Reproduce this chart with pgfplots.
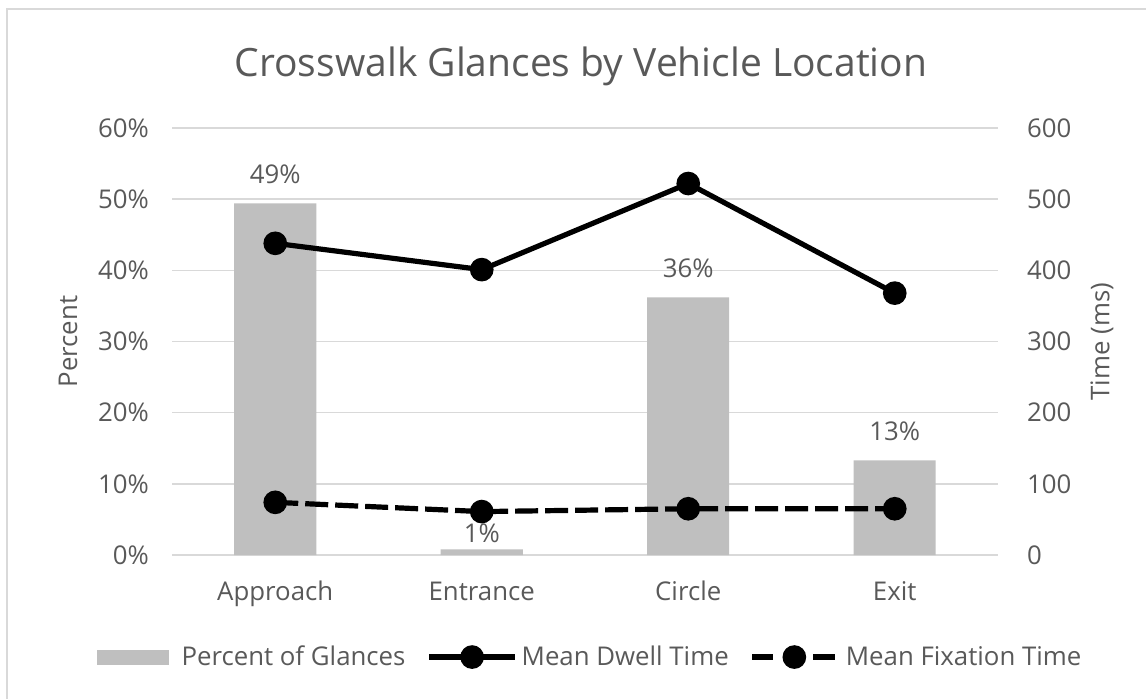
\documentclass[border=0pt]{standalone}
\usepackage{pgfplots}
\usepackage{pgfplotstable}
\pgfplotsset{compat=1.18}
\usepackage{fontspec}
\setmainfont{Open Sans}
\definecolor{txt}{HTML}{595959}
\definecolor{gridc}{HTML}{D9D9D9}
\definecolor{barc}{HTML}{BFBFBF}

% x, percent of glances, label shift
\pgfplotstableread{
x pct dy
0 49.4 14.5
1 0.8  8
2 36.2 14.5
3 13.3 14.5
}\glances

\pgfplotstableread{
x dwell fix
0 438 74
1 401 61
2 522 65
3 368 65
}\timetab

\pgfplotsset{
  /pgf/number format/assume math mode=true,
  solidleg/.style={legend image code/.code={%
    \draw[mark repeat=2,mark phase=2,##1] plot coordinates {(0pt,0pt) (21.5pt,0pt) (43pt,0pt)};}},
  dashleg/.style={legend image code/.code={%
    \draw[##1, dash pattern=on 10.5pt off 20pt on 11pt off 10pt] (0pt,0pt) -- (41.5pt,0pt);
    \draw[##1] plot[only marks] coordinates {(21pt,0pt)};
    \path (43.5pt,0pt);}},
}

\newcommand{\tickfont}{\fontsize{12.9}{15}\selectfont}

\begin{document}
\begin{tikzpicture}[x=1pt,y=1pt]
\path[use as bounding box] (0,0) rectangle (573,349);
\draw[color=gridc, line width=1.2pt] (3.5,-5) -- (3.5,344.5) -- (580,344.5);
\node[text=txt, font=\fontsize{19.5}{22}\selectfont] at (290.5,316) {Crosswalk Glances by Vehicle Location};

\begin{axis}[
  at={(86pt,71.5pt)}, anchor=south west,
  scale only axis, width=413pt, height=213.5pt,
  xmin=-0.5, xmax=3.5, ymin=0, ymax=60,
  axis line style={draw=none},
  major tick length=0pt,
  ytick={0,10,...,60},
  yticklabel={\pgfmathprintnumber{\tick}\%},
  ymajorgrids, grid style={gridc, line width=0.7pt},
  xtick={0,1,2,3},
  xticklabels={Approach,Entrance,Circle,Exit},
  tick label style={text=txt, font=\tickfont},
  yticklabel style={anchor=east, xshift=-8pt},
  xticklabel style={anchor=base, yshift=-22.5pt},
  ylabel={Percent},
  every axis y label/.style={at={(axis description cs:-0.1259,0.5)}, rotate=90, anchor=center, text=txt, font=\tickfont},
]
\addplot[ybar, bar width=41pt, fill=barc, draw=none,
  visualization depends on={\thisrow{dy} \as \dy},
  nodes near coords={\pgfmathprintnumber[fixed,precision=0]{\pgfplotspointmeta}\%},
  nodes near coords style={anchor=center, yshift=\dy pt, text=txt, font=\tickfont},
] table[x=x, y=pct] {\glances};
\end{axis}

\begin{axis}[
  at={(86pt,71.5pt)}, anchor=south west,
  scale only axis, width=413pt, height=213.5pt,
  xmin=-0.5, xmax=3.5, ymin=0, ymax=600,
  axis line style={draw=none},
  major tick length=0pt,
  axis y line*=right,
  xtick=\empty,
  ytick={0,100,...,600},
  tick label style={text=txt, font=\tickfont},
  yticklabel style={anchor=west, xshift=11pt},
  ylabel={Time (ms)},
  every axis y label/.style={at={(axis description cs:1.1259,0.5)}, rotate=90, anchor=center, text=txt, font=\tickfont},
  legend columns=3,
  legend style={draw=none, fill=none, text=txt, font=\tickfont,
    at={(axis description cs:0.5073,-0.239)}, anchor=center,
    /tikz/every even column/.append style={column sep=8.5pt},
    nodes={inner xsep=2pt}},
]
\addlegendimage{legend image code/.code={\fill[barc] (0pt,-3.5pt) rectangle (35.5pt,3.5pt); \path (40pt,0pt);}}
\addlegendentry{Percent of Glances}
\addplot[black, line width=2.6pt, mark=*, mark size=4.6pt, solidleg]
  table[x=x, y=dwell] {\timetab};
\addlegendentry{Mean Dwell Time}
\addplot[black, line width=2.6pt, dash pattern=on 11.5pt off 3.5pt, mark=*, mark size=4.6pt, mark options={solid}, dashleg]
  table[x=x, y=fix] {\timetab};
\addlegendentry{Mean Fixation Time}
\end{axis}
\end{tikzpicture}
\end{document}
